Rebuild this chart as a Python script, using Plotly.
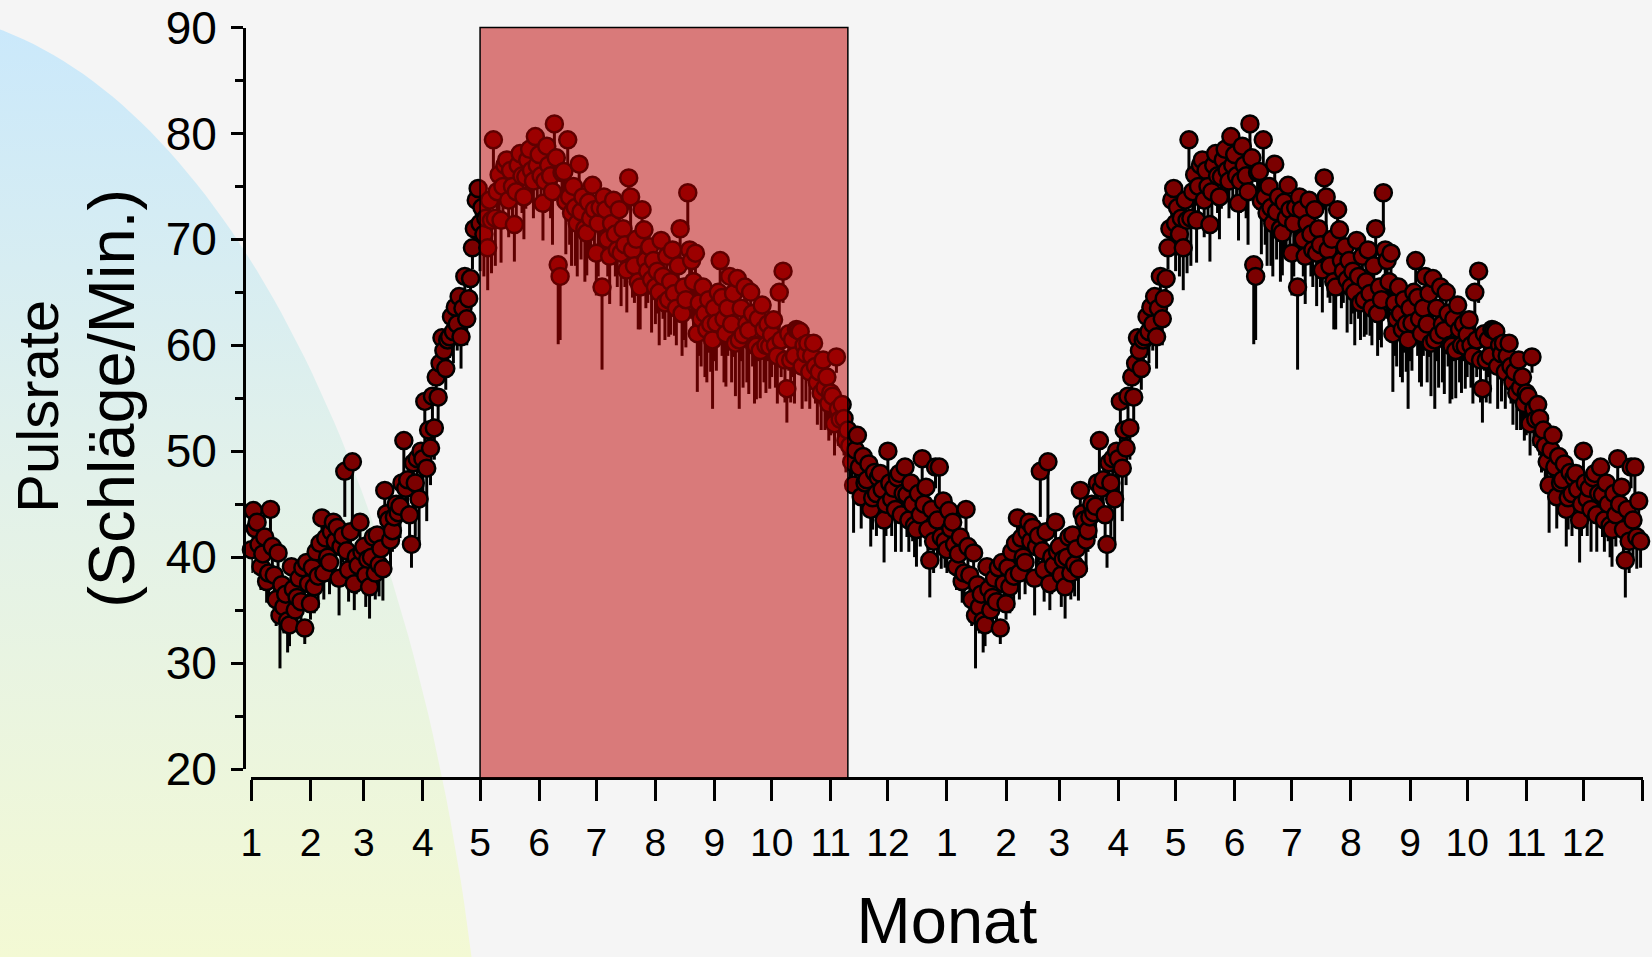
import math
import plotly.graph_objects as go

W, H = 1652, 957

# ---------------- data ----------------
month_lengths = [31, 28, 31, 30, 31, 30, 31, 31, 30, 31, 30, 31]
month_labels = ["1", "2", "3", "4", "5", "6", "7", "8", "9", "10", "11", "12"]

# daily mean pulse rate (beats/min), one year (the chart repeats it for a 2nd year)
pulse_rate = [
    # Jan
    40.7, 44.4, 42.7, 43.3, 41.2, 39.1, 40.3, 41.9, 37.7, 38.5,
    44.5, 41.0, 38.3, 36.0, 40.4, 34.5, 37.4, 35.3, 36.5, 34.0,
    33.6, 39.1, 37.0, 35.0, 36.2, 38.0, 35.8, 39.0, 33.3, 39.5,
    37.5,
    # Feb
    35.6, 39.0, 37.2, 40.5, 38.2, 41.3, 43.7, 38.5, 41.8, 40.0,
    39.5, 42.4, 43.3, 41.5, 42.8, 38.0, 41.0, 42.0, 48.1, 40.6,
    38.8, 42.4, 49.0, 37.5, 40.0, 39.2, 43.3, 40.5,
    # Mar
    41.0, 38.3, 39.8, 37.2, 40.0, 41.9, 38.5, 42.1, 39.3, 40.8,
    38.9, 46.3, 44.1, 43.5, 41.6, 42.5, 43.8, 45.0, 44.2, 44.8,
    47.0, 51.0, 46.5, 47.3, 44.0, 41.2, 48.9, 47.0, 49.3, 45.5,
    50.0,
    # Apr
    49.3, 54.7, 48.4, 52.0, 50.3, 55.2, 52.2, 57.0, 55.1, 58.3,
    60.7, 59.5, 57.8, 60.5, 60.8, 62.7, 61.3, 63.6, 62.0, 64.6,
    60.8, 63.5, 66.5, 62.5, 64.4, 66.3, 69.2, 71.0, 73.7, 74.8,
    # May
    71.5, 73.0, 70.5, 72.0, 69.2, 73.7, 71.8, 79.4, 72.0, 74.5,
    76.1, 71.8, 75.0, 77.0, 77.5, 73.7, 76.5, 75.0, 71.4, 74.5,
    77.0, 78.1, 76.0, 74.0, 75.9, 77.5, 78.5, 76.5, 75.5, 79.7,
    77.0,
    # Jun
    78.0, 76.0, 73.4, 75.5, 78.8, 77.0, 76.0, 74.5, 80.9, 77.7,
    67.6, 66.5, 76.3, 76.4, 73.6, 79.4, 74.0, 72.5, 75.0, 73.0,
    71.5, 77.1, 72.6, 74.0, 71.0, 70.6, 73.5, 72.0, 75.1, 72.8,
    # Jul
    68.7, 71.5, 73.0, 65.5, 74.0, 72.8, 70.0, 68.4, 71.5, 73.7,
    70.5, 69.0, 72.8, 68.7, 71.0, 69.5, 67.1, 75.8, 74.0, 69.0,
    67.5, 70.0, 66.0, 65.5, 72.8, 70.9, 68.0, 67.0, 69.3, 66.2,
    68.0,
    # Aug
    65.5, 67.0, 65.0, 69.9, 66.5, 64.0, 68.4, 64.3, 66.0, 69.0,
    64.9, 63.5, 67.5, 71.0, 63.0, 65.5, 64.3, 74.4, 69.0, 68.0,
    66.0, 68.7, 61.1, 64.0, 62.5, 65.5, 63.0, 61.5, 64.3, 62.0,
    60.5,
    # Sep
    63.5, 62.1, 65.0, 68.0, 64.5, 62.5, 61.1, 63.5, 66.5, 62.0,
    64.9, 60.2, 66.3, 60.5, 63.5, 61.0, 65.5, 62.0, 61.4, 65.0,
    63.0, 60.0, 59.9, 62.5, 59.5, 63.8, 61.5, 60.0, 62.0, 59.9,
    # Oct
    61.0, 62.4, 60.0, 59.0, 65.0, 60.5, 67.0, 58.6, 55.9, 61.1,
    58.6, 60.5, 59.0, 61.5, 61.4, 61.3, 58.0, 60.0, 59.2, 60.2,
    57.5, 59.0, 60.2, 58.0, 56.5, 57.5, 55.5, 58.6, 56.0, 57.0,
    54.5,
    # Nov
    55.5, 55.2, 52.6, 58.9, 54.0, 53.0, 54.4, 53.1, 51.0, 52.0,
    50.5, 49.0, 46.8, 50.1, 51.5, 48.5, 45.7, 49.5, 47.0, 47.3,
    48.8, 44.5, 45.6, 48.0, 46.0, 47.5, 47.9, 46.4, 43.5, 45.0,
    # Dec
    50.0, 47.0, 45.5, 46.5, 44.5, 47.5, 47.9, 44.0, 46.0, 48.5,
    45.9, 43.5, 47.0, 45.0, 43.0, 42.6, 46.0, 44.0, 49.3, 45.0,
    46.6, 42.6, 39.7, 44.5, 41.5, 48.5, 43.5, 48.5, 41.9, 45.3,
    41.5,
]

# lower error (beats/min)
pulse_err = [
    # Jan
    2.2, 2.5, 2.0, 2.6, 2.0, 2.2, 2.8, 2.5, 2.0, 2.5,
    2.6, 2.5, 3.0, 2.5, 3.0, 5.0, 3.0, 2.5, 2.0, 3.0,
    2.0, 3.0, 2.5, 2.0, 2.5, 2.0, 2.0, 2.5, 1.5, 2.0,
    2.5,
    # Feb
    1.5, 2.0, 2.5, 2.5, 3.0, 2.5, 3.0, 2.5, 3.0, 2.0,
    3.0, 2.5, 3.0, 3.0, 2.5, 3.5, 3.0, 2.5, 4.3, 3.0,
    3.0, 3.0, 6.4, 2.5, 3.5, 2.5, 2.0, 3.0,
    # Mar
    3.0, 3.0, 2.5, 3.0, 3.0, 2.0, 2.5, 3.0, 3.0, 2.5,
    3.0, 2.5, 3.0, 2.5, 3.0, 2.0, 3.0, 2.0, 2.5, 3.0,
    2.5, 3.5, 3.0, 3.0, 3.0, 2.2, 4.5, 5.0, 4.0, 4.0,
    3.0,
    # Apr
    4.5, 3.8, 5.0, 3.0, 3.5, 2.5, 3.0, 2.0, 2.5, 2.0,
    2.0, 2.5, 2.0, 2.0, 2.0, 2.0, 3.0, 2.0, 2.5, 2.0,
    3.0, 2.0, 2.0, 2.5, 2.0, 2.5, 2.0, 2.5, 2.5, 2.0,
    # May
    4.5, 3.5, 4.0, 3.0, 4.0, 3.5, 5.0, 3.0, 4.5, 3.0,
    3.5, 4.0, 3.0, 2.5, 3.0, 3.5, 3.0, 4.0, 3.5, 3.0,
    2.5, 2.5, 3.5, 4.0, 3.0, 2.5, 2.5, 3.0, 3.5, 2.5,
    3.0,
    # Jun
    2.5, 3.0, 3.5, 3.0, 2.5, 3.0, 4.0, 5.0, 2.5, 3.0,
    7.5, 6.0, 3.5, 4.0, 5.0, 3.0, 4.5, 5.0, 4.0, 5.5,
    5.0, 4.0, 4.5, 3.5, 5.0, 4.0, 4.5, 3.5, 3.0, 4.0,
    # Jul
    4.0, 5.0, 3.5, 7.8, 3.5, 4.0, 3.5, 4.5, 3.5, 3.0,
    4.0, 3.5, 4.0, 5.0, 3.0, 4.0, 4.0, 3.0, 3.5, 4.5,
    3.5, 3.5, 4.5, 4.0, 3.5, 3.0, 4.5, 3.0, 4.0, 5.0,
    3.5,
    # Aug
    3.5, 4.0, 5.0, 3.5, 4.0, 3.5, 4.0, 3.5, 5.0, 3.0,
    4.0, 3.5, 3.0, 3.0, 4.0, 5.0, 4.5, 3.2, 4.5, 5.5,
    5.0, 4.0, 5.5, 5.0, 4.5, 4.0, 6.0, 5.0, 5.0, 4.5,
    6.5,
    # Sep
    5.0, 4.5, 4.0, 4.0, 5.5, 6.0, 5.0, 4.5, 4.0, 5.5,
    6.0, 5.0, 4.5, 6.5, 5.0, 5.0, 3.5, 5.5, 6.0, 3.5,
    5.0, 5.5, 5.0, 4.0, 4.5, 4.0, 5.0, 4.5, 3.5, 4.0,
    # Oct
    4.0, 3.5, 4.0, 4.5, 4.0, 3.5, 3.0, 4.0, 3.2, 3.5,
    4.0, 3.5, 4.5, 3.0, 4.0, 3.5, 4.0, 3.0, 4.5, 3.0,
    3.5, 3.0, 3.0, 3.5, 4.0, 3.0, 3.5, 3.5, 4.0, 4.5,
    3.5,
    # Nov
    4.0, 3.5, 3.0, 1.5, 3.5, 2.5, 3.5, 3.5, 3.0, 2.5,
    3.5, 3.0, 4.5, 4.0, 2.5, 3.5, 3.0, 2.5, 3.0, 3.5,
    2.5, 3.5, 3.0, 3.0, 4.0, 2.5, 3.5, 3.0, 4.0, 3.0,
    # Dec
    2.5, 3.0, 3.5, 3.0, 4.0, 3.5, 3.0, 3.5, 3.0, 3.0,
    4.0, 3.0, 3.0, 3.5, 3.0, 3.5, 2.5, 3.0, 2.5, 3.0,
    3.5, 3.5, 3.5, 3.5, 3.0, 2.0, 3.5, 3.0, 3.0, 2.5,
    2.5,
]

n_years = 2
highlight_start_day = 120   # 1 May, year 1
highlight_end_day = 313     # ~10 Nov, year 1

# ---------------- derived ----------------
days_per_year = sum(month_lengths)
days = [d + y * days_per_year for y in range(n_years) for d in range(days_per_year)]
values = pulse_rate * n_years
errors = pulse_err * n_years

month_starts = [0]
for _ in range(n_years):
    for L in month_lengths:
        month_starts.append(month_starts[-1] + L)
tick_text = month_labels * n_years + [""]

# ---------------- layout geometry (pixels) ----------------
X_LEFT, X_RIGHT = 251.4, 1642.5      # day 0 .. day 730
Y_TOP, Y_BOTTOM = 27.5, 769.0        # 90 .. 20
XAXIS_Y = 778.0
YAXIS_X = 244.0

x_dom = [X_LEFT / W, X_RIGHT / W]
y_dom = [1 - Y_BOTTOM / H, 1 - Y_TOP / H]
xaxis_pos = 1 - XAXIS_Y / H
yaxis_pos = YAXIS_X / W

FONT = "Liberation Sans, Arial, sans-serif"

fig = go.Figure()

# decorative background blob (elliptical, vertical gradient) on a full-figure helper axis pair
ecx, ecy, erx, ery = -100.0, H - 1300.0, 593.0, 1289.0
ang = [math.radians(a) for a in range(0, 361)]
fig.add_trace(go.Scatter(
    x=[ecx + erx * math.cos(a) for a in ang],
    y=[ecy + ery * math.sin(a) for a in ang],
    mode="lines", line=dict(width=0), fill="toself",
    fillgradient=dict(type="vertical",
                      colorscale=[[0, "#f3f9d4"], [0.5, "#e2f1ea"], [1, "#c9e8fc"]],
                      start=0, stop=H),
    hoverinfo="skip", showlegend=False, xaxis="x", yaxis="y",
))

# data
fig.add_trace(go.Scatter(
    x=days, y=values, mode="markers",
    marker=dict(size=17, color="#7b0000", line=dict(color="black", width=2.5)),
    error_y=dict(type="data", symmetric=False, array=[0] * len(errors),
                 arrayminus=errors, color="black", thickness=3, width=0),
    cliponaxis=False, showlegend=False, xaxis="x2", yaxis="y2",
))

fig.add_shape(type="rect", xref="x2", yref="paper",
              x0=highlight_start_day, x1=highlight_end_day,
              y0=xaxis_pos, y1=y_dom[1],
              fillcolor="rgba(190,0,0,0.5)", line=dict(color="black", width=1.5),
              layer="above")

fig.update_layout(
    width=W, height=H,
    margin=dict(l=0, r=0, t=0, b=0),
    paper_bgcolor="#f5f5f5",
    plot_bgcolor="rgba(0,0,0,0)",
    font=dict(family=FONT, color="black"),
    showlegend=False,
    xaxis=dict(domain=[0, 1], range=[0, W], visible=False, fixedrange=True),
    yaxis=dict(domain=[0, 1], range=[0, H], visible=False, fixedrange=True),
    xaxis2=dict(
        domain=x_dom, anchor="free", position=xaxis_pos, range=[0, month_starts[-1]],
        tickmode="array", tickvals=month_starts, ticktext=tick_text,
        ticks="outside", ticklen=21, tickwidth=3, tickcolor="black",
        showline=True, linewidth=3, linecolor="black",
        showgrid=False, zeroline=False, automargin=False,
        ticklabelstandoff=8,
        tickfont=dict(family=FONT, size=39, color="black"),
        title=dict(text="Monat", font=dict(family=FONT, size=65, color="black"), standoff=51),
    ),
    yaxis2=dict(
        domain=y_dom, anchor="free", position=yaxis_pos, range=[20, 90],
        tick0=0, dtick=10,
        ticks="outside", ticklen=12, tickwidth=3, tickcolor="black",
        minor=dict(dtick=5, tick0=0, ticks="outside", ticklen=8, tickwidth=3, tickcolor="black", showgrid=False),
        showline=True, linewidth=3, linecolor="black",
        showgrid=False, zeroline=False, automargin=False,
        ticklabelstandoff=5,
        tickfont=dict(family=FONT, size=46, color="black"),
        title=dict(text='Pulsrate\u00a0<br><span style="font-size:65px">(Schläge/Min.)</span>',
                   font=dict(family=FONT, size=58, color="black"), standoff=11),
    ),
)

fig.write_html(
    "out.html",
    config={"displayModeBar": False},
    post_script="document.body.style.margin='0px';document.body.style.padding='0px';"
                "document.documentElement.style.overflow='hidden';",
)
